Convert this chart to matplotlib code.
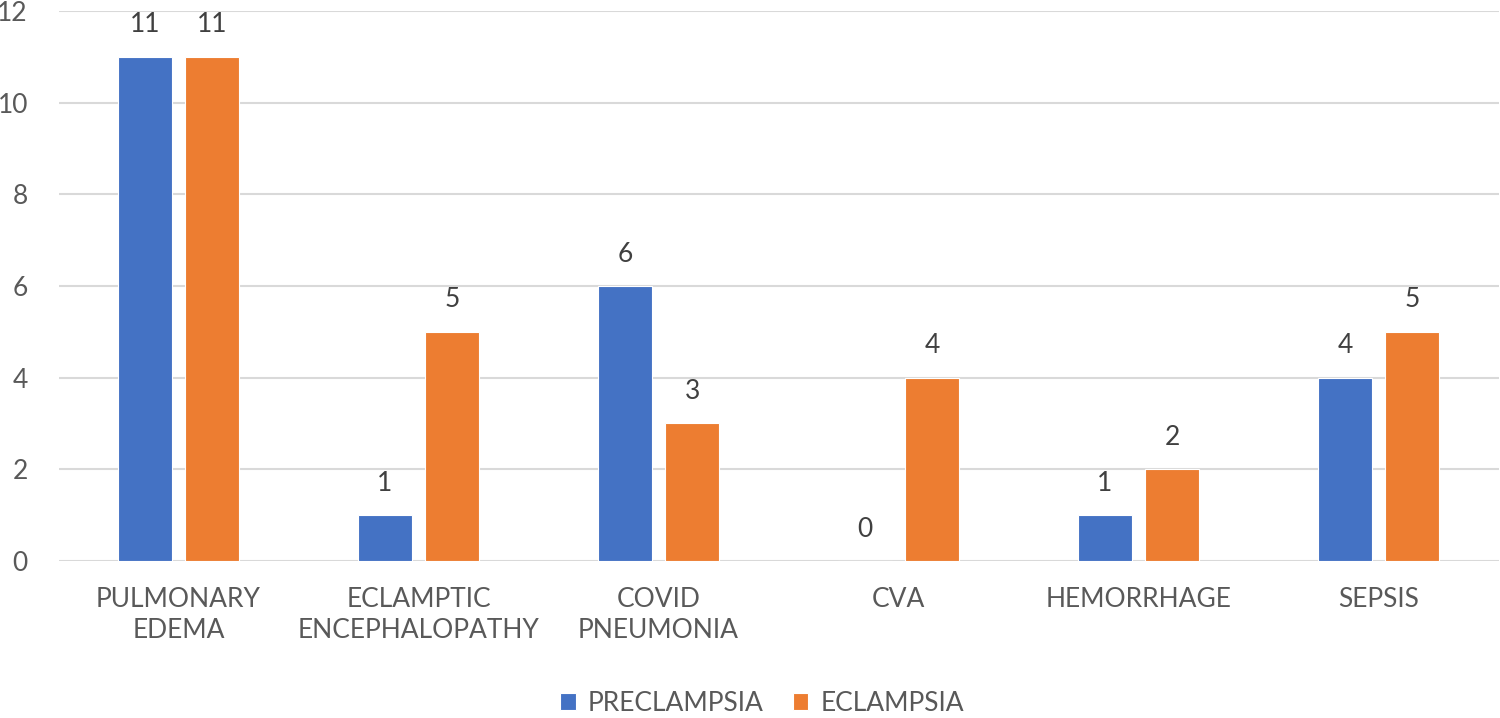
import matplotlib
matplotlib.use("Agg")
import matplotlib.pyplot as plt
import numpy as np

categories = ["PULMONARY\nEDEMA", "ECLAMPTIC\nENCEPHALOPATHY", "COVID\nPNEUMONIA", "CVA", "HEMORRHAGE", "SEPSIS"]
preclampsia = [11, 1, 6, 0, 1, 4]
eclampsia = [11, 5, 3, 4, 2, 5]
series_names = ["PRECLAMPSIA", "ECLAMPSIA"]
yticks = [0, 2, 4, 6, 8, 10, 12]

plt.rcParams['font.family'] = ['Lato', 'DejaVu Sans']
txt = '#595959'
blue = '#4472C4'
orange = '#ED7D31'

fig = plt.figure(figsize=(15, 7.18), dpi=100)
ax = fig.add_axes([0.039, 0.2187, 0.96, 0.7660])

x = np.arange(len(categories))
w = 0.225
off = 0.14
b1 = ax.bar(x - off, preclampsia, w, color=blue, edgecolor='white', linewidth=0.8, label=series_names[0], zorder=3)
b2 = ax.bar(x + off, eclampsia, w, color=orange, edgecolor='white', linewidth=0.8, label=series_names[1], zorder=3)

for bars, vals in ((b1, preclampsia), (b2, eclampsia)):
    for r, v in zip(bars, vals):
        ax.annotate(str(v), (r.get_x() + r.get_width() / 2, v), xytext=(0, 23), textcoords='offset points',
                    ha='center', va='center', fontsize=19, color='#404040')

ax.set_xlim(-0.5, len(categories) - 0.5)
ax.set_ylim(0, 12)
ax.set_yticks(yticks)
ax.set_yticklabels([str(t) for t in yticks])
ax.set_xticks(x)
ax.set_xticklabels(categories, linespacing=1.3)
ax.tick_params(axis='both', length=0, labelsize=19, labelcolor=txt)
ax.tick_params(axis='x', pad=19)
ax.tick_params(axis='y', pad=22)
for lab in ax.get_yticklabels():
    lab.set_horizontalalignment('right')
ax.grid(axis='y', color='#D9D9D9', linewidth=1.5, zorder=0)
for s in ax.spines.values():
    s.set_visible(False)

leg = fig.legend(handles=[b1, b2], labels=series_names, loc='center', bbox_to_anchor=(0.508, 0.02),
                 ncol=2, frameon=False, fontsize=19, handlelength=0.6, handleheight=0.6,
                 columnspacing=1.1, handletextpad=0.45, borderpad=0.1)
for t in leg.get_texts():
    t.set_color(txt)

fig.savefig('out.png', dpi=100, facecolor='white')
